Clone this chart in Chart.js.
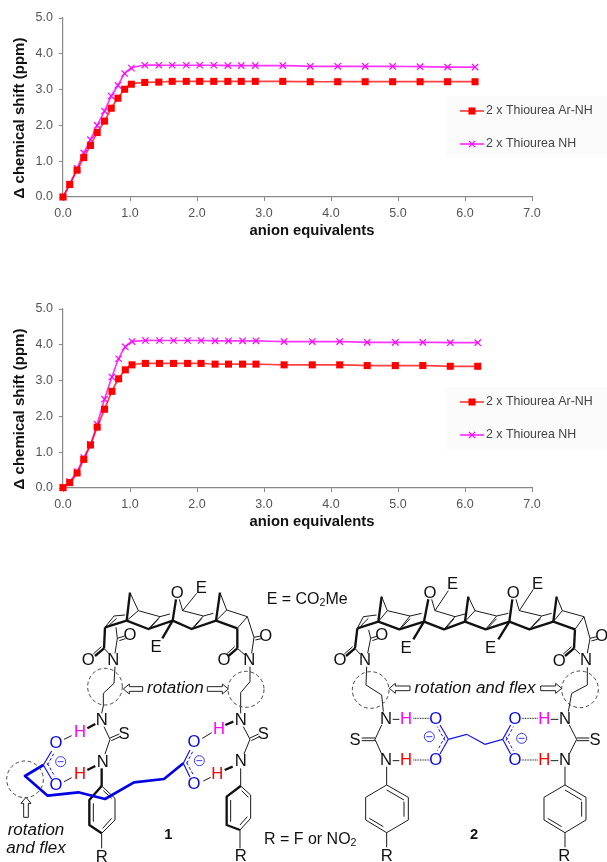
<!DOCTYPE html>
<html>
<head>
<meta charset="utf-8">
<title>Anion titration</title>
<script src="https://cdn.jsdelivr.net/npm/chart.js@4"></script>
<style>
  html, body { margin: 0; padding: 0; background: #fff; }
  body { position: relative; width: 607px; height: 862px; overflow: hidden; }
  canvas { position: absolute; left: 0; filter: blur(0.4px); }
  #chartTop { top: 0; }
  #chartBottom { top: 291px; }
  #scheme { position: absolute; left: 0; top: 0; filter: blur(0.35px); }
  #scheme .t { fill: none; stroke: #1a1a1a; stroke-width: 3; }
  #scheme .b { fill: none; stroke: #111; stroke-width: 7; stroke-linejoin: round; }
  #scheme .d { fill: none; stroke: #444; stroke-width: 3; stroke-dasharray: 11 8; }
  #scheme .h { fill: none; stroke: #222; stroke-width: 3; stroke-dasharray: 3 2; }
  #scheme .bt { fill: none; stroke: #1414e6; stroke-width: 3.5; }
  #scheme .bd { fill: none; stroke: #1414e6; stroke-width: 3; stroke-dasharray: 9 6; }
  #scheme .bb { fill: none; stroke: #0000e6; stroke-width: 8; stroke-linejoin: round; }
  #scheme .m { fill: none; stroke: #1414e6; stroke-width: 2.5; }
  #scheme .a { fill: #fff; stroke: #222; stroke-width: 3; }
  #scheme text { font-family: "Liberation Sans", Arial, sans-serif; font-size: 48px; fill: #111; text-anchor: middle; dominant-baseline: central; }
  #scheme text.at { font-size: 50px; }
  #scheme text.i { font-style: italic; font-size: 51px; }
  #scheme text.s { text-anchor: start; }
  #scheme text.n { font-weight: bold; font-size: 44px; }
  #scheme text.blue { fill: #0a0ae6; font-size: 50px; }
  #scheme text.pink { fill: #ff00ff; font-size: 50px; }
  #scheme text.red { fill: #ff0000; font-size: 50px; }
</style>
</head>
<body>
<canvas id="chartTop" width="607" height="262"></canvas>
<canvas id="chartBottom" width="607" height="262"></canvas>

<svg id="scheme" width="607" height="862" xmlns="http://www.w3.org/2000/svg">
<g transform="translate(0 550) scale(.33333)">
  <!-- compound 1 -->
  <polyline class="b" points="315,232 380,212 445,237 518,212 575,237 648,212 712,235"/>
  <polyline class="b" points="390,128 380,212"/>
  <polyline class="b" points="660,128 648,212"/>
  <polyline class="b" points="518,212 528,148"/>
  <polyline class="b" points="518,212 487,265"/>
  <polyline class="b" points="315,232 312,295"/>
  <polyline class="b" points="712,235 712,295"/>
  <polyline class="t" points="390,128 415,182 480,200 445,237"/>
  <polyline class="t" points="452,232 476,206"/>
  <polyline class="t" points="415,182 380,212"/>
  <polyline class="t" points="538,148 548,182 590,130"/>
  <polyline class="t" points="548,182 610,198 575,237"/>
  <polyline class="t" points="582,232 606,205"/>
  <polyline class="t" points="610,198 640,190"/>
  <polyline class="t" points="660,128 680,180 742,200 712,235"/>
  <polyline class="t" points="680,180 648,212"/>
  <polyline class="t" points="480,200 510,192"/>
  <polyline class="t" points="315,232 342,198 375,195"/>
  <polyline class="t" points="328,225 350,205"/>
  <polyline class="t" points="348,232 352,265 345,310"/>
  <polyline class="t" points="352,265 374,258"/>
  <polyline class="t" points="358,272 376,266"/>
  <polyline class="t" points="742,200 762,262 755,310"/>
  <polyline class="t" points="762,262 782,258"/>
  <polyline class="t" points="766,270 784,266"/>
  <polyline class="b" points="312,295 285,318"/>
  <polyline class="t" points="304,290 280,312"/>
  <polyline class="t" points="312,295 328,312"/>
  <polyline class="b" points="712,295 685,318"/>
  <polyline class="t" points="704,290 680,312"/>
  <polyline class="t" points="712,295 735,315"/>
  <text class="at" x="265" y="330">O</text><text class="at" x="340" y="330">N</text><text class="at" x="390" y="255">O</text>
  <text class="at" x="532" y="127">O</text><text class="at" x="604" y="113">E</text><text class="at" x="468" y="290">E</text>
  <text class="at" x="672" y="328">O</text><text class="at" x="748" y="330">N</text><text class="at" x="797" y="258">O</text>
  <polyline class="t" points="345,350 342,400 310,430 310,468 305,490"/>
  <polyline class="t" points="750,350 750,395 722,428 722,470 722,490"/>
  <ellipse class="d" cx="315" cy="410" rx="52" ry="55"/>
  <ellipse class="d" cx="738" cy="418" rx="54" ry="54"/>
  <polygon class="a" points="370,417 388,402 388,410 428,410 428,424 388,424 388,432"/>
  <polygon class="a" points="685,417 667,402 667,410 622,410 622,424 667,424 667,432"/>
  <text class="i" x="526" y="414">rotation</text>
  <text class="at" x="305" y="510">N</text><text class="pink" x="240" y="545">H</text>
  <polyline class="b" points="262,535 286,522"/>
  <polyline class="t" points="312,530 330,568 315,612"/>
  <polyline class="t" points="330,564 358,552"/><polyline class="t" points="334,572 360,560"/>
  <text class="at" x="372" y="552">S</text><text class="at" x="308" y="635">N</text>
  <text class="red" x="240" y="670">H</text>
  <polyline class="b" points="262,660 286,648"/>
  <polyline class="b" points="305,655 305,708"/>
  <polyline class="t" points="305,708 345,745 345,810 305,850"/>
  <polyline class="b" points="305,708 268,750 268,825 305,850"/>
  <polyline class="t" points="280,760 280,815"/><polyline class="t" points="335,805 308,835"/><polyline class="t" points="310,722 335,745"/>
  <polyline class="t" points="305,850 305,895"/>
  <text class="at" x="305" y="920">R</text>
  <text class="blue" x="168" y="578">O</text><text class="blue" x="168" y="705">O</text>
  <polyline class="bt" points="130,645 155,603"/><polyline class="bd" points="142,645 163,608"/>
  <polyline class="bt" points="130,645 155,688"/><polyline class="bd" points="142,640 165,680"/>
  <circle class="m" cx="182" cy="635" r="15"/><polyline class="m" points="173,635 191,635"/>
  <polyline class="t" points="192,568 215,557"/><polyline class="t" points="192,695 215,683"/>
  <polyline class="bb" points="130,645 75,678 143,737 235,727 315,747 402,697 492,687 550,640"/>
  <ellipse class="d" cx="75" cy="688" rx="55" ry="55"/>
  <polygon class="a" points="78,742 63,760 71,760 71,802 85,802 85,760 93,760"/>
  <text class="i" x="108" y="838">rotation</text><text class="i" x="108" y="892">and flex</text>
  <text class="n" x="505" y="853">1</text>
  <text class="blue" x="582" y="575">O</text><text class="blue" x="582" y="700">O</text>
  <polyline class="bt" points="550,640 570,600"/><polyline class="bd" points="560,640 578,605"/>
  <polyline class="bt" points="550,640 570,682"/><polyline class="bd" points="560,638 580,675"/>
  <circle class="m" cx="598" cy="632" r="15"/><polyline class="m" points="589,632 607,632"/>
  <polyline class="t" points="607,565 635,548"/><polyline class="t" points="610,693 632,682"/>
  <text class="pink" x="657" y="535">H</text><text class="red" x="652" y="670">H</text>
  <text class="at" x="722" y="510">N</text><text class="at" x="722" y="632">N</text><text class="at" x="790" y="552">S</text>
  <polyline class="b" points="676,525 700,515"/><polyline class="b" points="674,660 698,650"/>
  <polyline class="t" points="730,530 750,568 732,612"/>
  <polyline class="t" points="750,564 776,552"/><polyline class="t" points="754,572 778,560"/>
  <polyline class="t" points="722,655 722,708 752,735 752,805 720,840"/>
  <polyline class="b" points="722,708 680,740 680,825 720,840"/>
  <polyline class="t" points="692,750 692,815"/><polyline class="t" points="742,800 720,825"/><polyline class="t" points="725,722 745,742"/>
  <polyline class="t" points="720,840 720,895"/>
  <text class="at" x="722" y="918">R</text>
  <text class="s" x="800" y="145">E = CO<tspan dy="10" font-size="32">2</tspan><tspan dy="-10">Me</tspan></text>
  <text class="s" x="792" y="865">R = F or NO<tspan dy="10" font-size="32">2</tspan></text>

  <!-- compound 2 -->
  <g transform="translate(900 0)">
    <polyline class="b" points="172,235 235,215 298,238 372,215 432,238 495,215 557,238 628,215 688,238 760,215 825,238"/>
    <polyline class="b" points="245,140 235,215"/><polyline class="b" points="505,140 495,215"/><polyline class="b" points="770,140 760,215"/>
    <polyline class="b" points="372,215 385,148"/><polyline class="b" points="628,215 637,148"/>
    <polyline class="b" points="372,215 340,268"/><polyline class="b" points="628,215 595,268"/>
    <polyline class="b" points="172,235 165,295"/><polyline class="b" points="825,238 822,295"/>
    <polyline class="t" points="245,140 262,182 330,198 298,238"/><polyline class="t" points="306,232 330,206"/><polyline class="t" points="262,182 235,215"/>
    <polyline class="t" points="395,148 405,182 445,122"/><polyline class="t" points="405,182 465,200 432,238"/><polyline class="t" points="440,232 462,206"/>
    <polyline class="t" points="505,140 525,182 590,198 557,238"/><polyline class="t" points="565,232 590,206"/><polyline class="t" points="525,182 495,215"/>
    <polyline class="t" points="648,148 658,182 700,118"/><polyline class="t" points="658,182 725,198 688,238"/><polyline class="t" points="695,232 722,206"/>
    <polyline class="t" points="770,140 787,182 852,200 825,238"/><polyline class="t" points="787,182 760,215"/>
    <polyline class="t" points="330,198 365,190"/><polyline class="t" points="465,200 495,192"/><polyline class="t" points="590,198 625,190"/><polyline class="t" points="725,198 755,190"/>
    <polyline class="t" points="172,235 190,200 230,195"/><polyline class="t" points="182,228 205,205"/>
    <polyline class="t" points="206,240 212,265 203,310"/><polyline class="t" points="212,265 232,258"/><polyline class="t" points="217,272 234,266"/>
    <polyline class="t" points="852,200 870,265 862,310"/><polyline class="t" points="870,265 890,260"/><polyline class="t" points="874,273 892,268"/>
    <polyline class="b" points="165,295 138,318"/><polyline class="t" points="158,290 133,312"/><polyline class="t" points="165,295 180,312"/>
    <polyline class="b" points="822,295 795,318"/><polyline class="t" points="815,290 790,312"/><polyline class="t" points="822,295 840,312"/>
    <text class="at" x="390" y="128">O</text><text class="at" x="458" y="100">E</text><text class="at" x="640" y="128">O</text><text class="at" x="713" y="100">E</text>
    <text class="at" x="318" y="292">E</text><text class="at" x="572" y="292">E</text>
    <text class="at" x="120" y="330">O</text><text class="at" x="195" y="330">N</text><text class="at" x="245" y="255">O</text>
    <text class="at" x="778" y="332">O</text><text class="at" x="858" y="330">N</text><text class="at" x="905" y="258">O</text>
    <polyline class="t" points="200,350 198,405 245,435 250,485"/>
    <polyline class="t" points="862,352 862,405 815,430 805,485"/>
    <ellipse class="d" cx="212" cy="420" rx="55" ry="55"/><ellipse class="d" cx="840" cy="418" rx="55" ry="55"/>
    <polygon class="a" points="268,415 286,400 286,408 330,408 330,422 286,422 286,430"/>
    <polygon class="a" points="785,415 767,400 767,408 722,408 722,422 767,422 767,430"/>
    <text class="i" x="525" y="414">rotation and flex</text>
    <text class="at" x="258" y="505">N</text><text class="at" x="258" y="630">N</text><text class="at" x="165" y="568">S</text>
    <text class="pink" x="318" y="505">H</text><text class="red" x="318" y="630">H</text>
    <text class="blue" x="407" y="505">O</text><text class="blue" x="407" y="630">O</text>
    <polyline class="t" points="278,508 298,508"/><polyline class="t" points="278,632 298,632"/>
    <polyline class="h" points="340,505 388,505"/><polyline class="h" points="340,630 388,630"/>
    <polyline class="t" points="245,525 225,568 245,612"/><polyline class="t" points="185,564 225,564"/><polyline class="t" points="185,572 225,572"/>
    <text class="at" x="795" y="505">N</text><text class="at" x="795" y="630">N</text><text class="at" x="885" y="568">S</text>
    <text class="pink" x="733" y="505">H</text><text class="red" x="733" y="630">H</text>
    <text class="blue" x="645" y="505">O</text><text class="blue" x="645" y="630">O</text>
    <polyline class="t" points="752,508 775,508"/><polyline class="t" points="752,632 775,632"/>
    <polyline class="h" points="665,505 715,505"/><polyline class="h" points="665,630 715,630"/>
    <polyline class="t" points="808,525 830,568 808,612"/><polyline class="t" points="830,564 868,564"/><polyline class="t" points="830,572 868,572"/>
    <polyline class="bt" points="445,568 420,525"/><polyline class="bd" points="435,572 412,530"/>
    <polyline class="bt" points="445,568 420,612"/><polyline class="bd" points="435,560 412,602"/>
    <polyline class="bt" points="445,568 500,553 555,583 608,568"/>
    <polyline class="bt" points="608,568 632,525"/><polyline class="bd" points="618,572 640,530"/>
    <polyline class="bt" points="608,568 632,612"/><polyline class="bd" points="618,560 640,602"/>
    <circle class="m" cx="388" cy="560" r="15"/><polyline class="m" points="379,560 397,560"/>
    <circle class="m" cx="665" cy="565" r="15"/><polyline class="m" points="656,565 674,565"/>
    <polyline class="t" points="260,650 260,705"/><polygon class="t" points="260,705 325,742 325,810 260,848 197,810 197,742"/>
    <polyline class="t" points="260,720 312,750"/><polyline class="t" points="312,755 312,800"/><polyline class="t" points="208,805 250,830"/>
    <polyline class="t" points="260,848 260,892"/><text class="at" x="260" y="918">R</text>
    <polyline class="t" points="795,650 795,705"/><polygon class="t" points="795,705 858,742 858,810 795,848 732,810 732,742"/>
    <polyline class="t" points="795,720 845,750"/><polyline class="t" points="845,755 845,800"/><polyline class="t" points="743,805 785,830"/>
    <polyline class="t" points="795,848 795,892"/><text class="at" x="793" y="918">R</text>
    <text class="n" x="522" y="853">2</text>
  </g>
</g>
</svg>

<script>
const seriesNames = ["2 x Thiourea Ar-NH", "2 x Thiourea NH"];
const xTickValues = [0, 1, 2, 3, 4, 5, 6, 7];
const yTickValues = [0, 1, 2, 3, 4, 5];

// top plot
const equivTop = [0, 0.10, 0.21, 0.31, 0.41, 0.51, 0.62, 0.72, 0.82, 0.92, 1.02, 1.22, 1.43, 1.63, 1.84, 2.04, 2.25, 2.46, 2.66, 2.87, 3.28, 3.69, 4.10, 4.51, 4.92, 5.33, 5.74, 6.15];
const arNhTop = [0, 0.35, 0.75, 1.10, 1.44, 1.80, 2.12, 2.48, 2.76, 3.01, 3.15, 3.20, 3.21, 3.23, 3.23, 3.23, 3.23, 3.23, 3.23, 3.23, 3.23, 3.22, 3.22, 3.22, 3.22, 3.22, 3.22, 3.22];
const nhTop = [0, 0.36, 0.80, 1.23, 1.60, 2.00, 2.40, 2.82, 3.12, 3.45, 3.60, 3.68, 3.68, 3.68, 3.68, 3.68, 3.68, 3.67, 3.67, 3.67, 3.67, 3.65, 3.65, 3.65, 3.65, 3.64, 3.63, 3.63];

// bottom plot
const equivBottom = [0, 0.10, 0.21, 0.31, 0.41, 0.51, 0.62, 0.73, 0.83, 0.93, 1.03, 1.23, 1.44, 1.65, 1.86, 2.06, 2.27, 2.47, 2.68, 2.88, 3.30, 3.72, 4.13, 4.54, 4.96, 5.37, 5.78, 6.19];
const arNhBottom = [0.01, 0.15, 0.42, 0.80, 1.20, 1.70, 2.20, 2.70, 3.05, 3.30, 3.44, 3.48, 3.48, 3.48, 3.48, 3.48, 3.46, 3.46, 3.46, 3.46, 3.44, 3.44, 3.44, 3.42, 3.42, 3.42, 3.40, 3.40];
const nhBottom = [0.01, 0.18, 0.46, 0.85, 1.22, 1.78, 2.48, 3.10, 3.61, 3.94, 4.09, 4.12, 4.12, 4.12, 4.12, 4.12, 4.11, 4.11, 4.11, 4.11, 4.09, 4.09, 4.09, 4.07, 4.07, 4.07, 4.06, 4.06];

const fontFamily = '"Liberation Sans", Arial, sans-serif';

// axis titles and the little legend box sit off-centre in the original, so they are placed by hand
const annotations = {
  id: "annotations",
  afterDraw(chart) {
    const ctx = chart.ctx;
    ctx.save();
    ctx.fillStyle = "#111";
    ctx.textAlign = "center";
    ctx.textBaseline = "middle";
    ctx.font = "bold 14.8px " + fontFamily;
    ctx.fillText("anion equivalents", 312, 231);
    ctx.translate(20, 118);
    ctx.rotate(-Math.PI / 2);
    ctx.font = "bold 15px " + fontFamily;
    ctx.fillText("\u0394 chemical shift (ppm)", 0, 0);
    ctx.restore();

    ctx.save();
    ctx.fillStyle = "#fbfbfb";
    ctx.fillRect(446, 96, 161, 62);
    ctx.font = "12.4px " + fontFamily;
    ctx.textBaseline = "middle";
    [111, 144].forEach((y, i) => {
      const ds = chart.data.datasets[i];
      ctx.strokeStyle = ds.borderColor;
      ctx.lineWidth = 1.7;
      ctx.beginPath();
      ctx.moveTo(460, y);
      ctx.lineTo(484, y);
      ctx.stroke();
      ctx.fillStyle = ds.pointBackgroundColor;
      ctx.strokeStyle = ds.pointBorderColor;
      ctx.lineWidth = ds.pointBorderWidth;
      Chart.helpers.drawPoint(ctx, { pointStyle: ds.pointStyle, radius: ds.pointRadius, borderWidth: ds.pointBorderWidth, rotation: 0 }, 472, y);
      ctx.fillStyle = "#444";
      ctx.fillText(ds.label, 486, y);
    });
    ctx.restore();
  },
};

function buildChart(canvasId, equiv, arNh, nh) {
  return new Chart(document.getElementById(canvasId), {
    type: "scatter",
    data: {
      datasets: [
        {
          label: seriesNames[0],
          data: equiv.map((x, i) => ({ x, y: arNh[i] })),
          showLine: true,
          clip: false,
          tension: 0.2,
          borderColor: "rgba(255, 0, 0, 0.75)",
          borderWidth: 1.7,
          pointStyle: "rect",
          pointRadius: 5,
          pointBorderWidth: 0,
          pointBackgroundColor: "#ff0000",
          pointBorderColor: "#ff0000",
        },
        {
          label: seriesNames[1],
          data: equiv.map((x, i) => ({ x, y: nh[i] })),
          showLine: true,
          clip: false,
          tension: 0.2,
          borderColor: "rgba(255, 0, 255, 0.8)",
          borderWidth: 1.7,
          pointStyle: "crossRot",
          pointRadius: 4.5,
          pointBorderWidth: 1.2,
          pointBackgroundColor: "#ff00ff",
          pointBorderColor: "#ff00ff",
        },
      ],
    },
    options: {
      responsive: false,
      animation: false,
      layout: { padding: { top: 18, right: 75, left: 0, bottom: 0 } },
      plugins: { legend: { display: false }, tooltip: { enabled: false } },
      scales: {
        x: {
          type: "linear",
          min: 0,
          max: 7,
          afterBuildTicks: (axis) => { axis.ticks = xTickValues.map((value) => ({ value })); },
          afterFit: (axis) => { axis.height = 65; },
          border: { color: "#888", width: 1.2 },
          grid: { drawOnChartArea: false, color: "#888", tickLength: 4 },
          ticks: {
            color: "#555",
            padding: 5,
            maxRotation: 0,
            font: { family: fontFamily, size: 12.5 },
            callback: (value) => value.toFixed(1),
          },
        },
        y: {
          min: 0,
          max: 5,
          afterBuildTicks: (axis) => { axis.ticks = yTickValues.map((value) => ({ value })); },
          afterFit: (axis) => { axis.width = 63; },
          border: { color: "#888", width: 1.2 },
          grid: { drawOnChartArea: false, color: "#888", tickLength: 4 },
          ticks: {
            color: "#555",
            padding: 6,
            font: { family: fontFamily, size: 12.5 },
            callback: (value) => value.toFixed(1),
          },
        },
      },
    },
    plugins: [annotations],
  });
}

buildChart("chartTop", equivTop, arNhTop, nhTop);
buildChart("chartBottom", equivBottom, arNhBottom, nhBottom);
</script>
</body>
</html>
